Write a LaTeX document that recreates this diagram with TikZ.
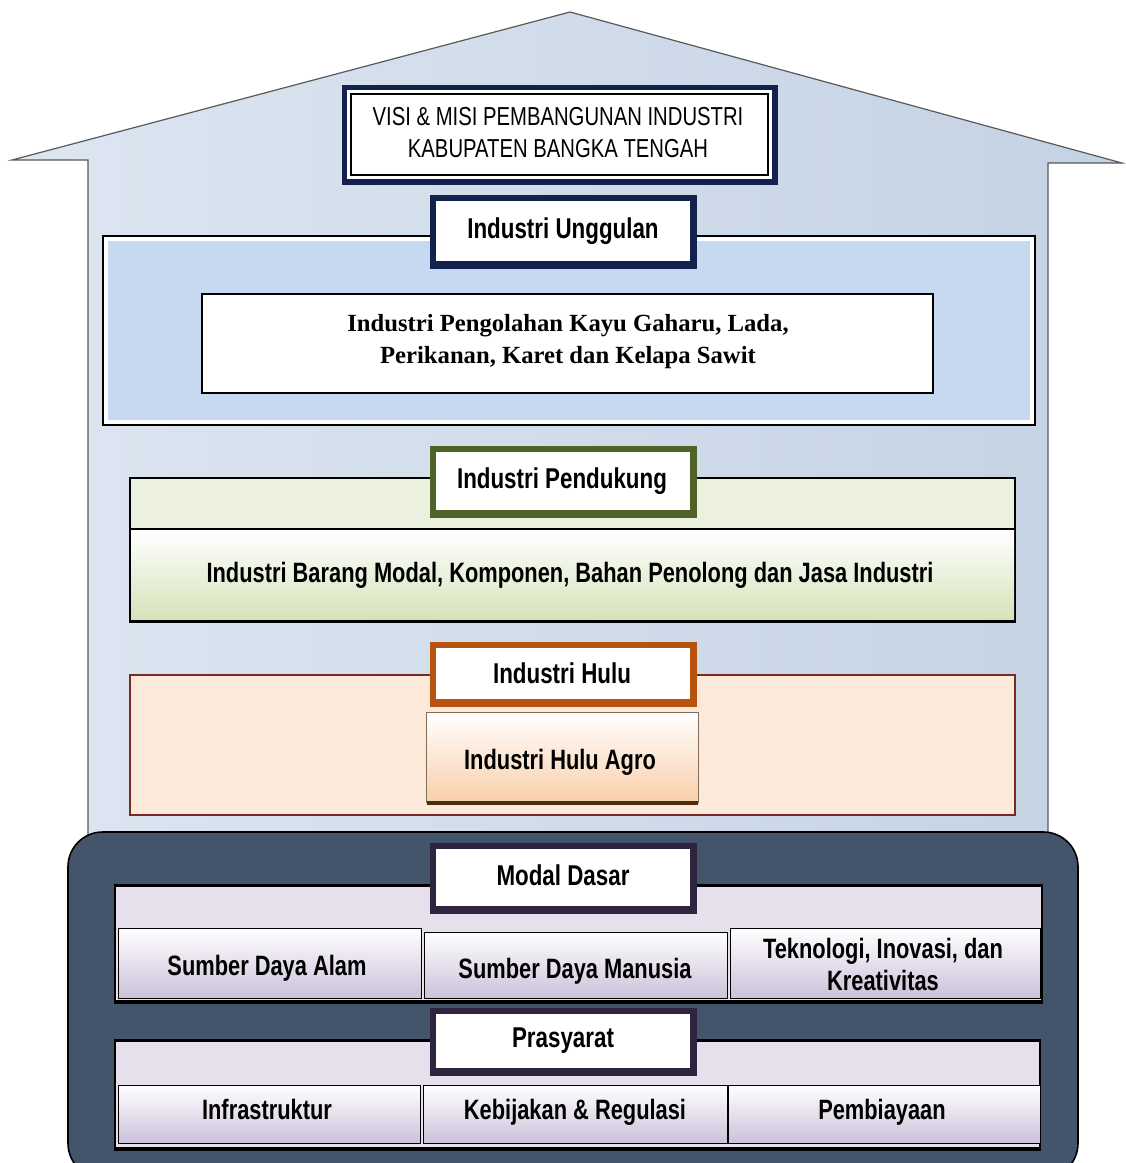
\documentclass[tikz,border=0pt]{standalone}
\usepackage{fontspec}
\setmainfont{Liberation Sans}
\newfontfamily\nar[FakeStretch=0.78]{Liberation Sans}
\newfontfamily\ser{Liberation Serif}
\definecolor{navy}{HTML}{13224D}
\definecolor{houseL}{HTML}{DDE6F1}
\definecolor{houseR}{HTML}{C4D2E3}
\definecolor{basec}{HTML}{44546A}
\definecolor{blueP}{HTML}{C6D9F1}
\definecolor{greenL}{HTML}{EBF1DE}
\definecolor{greenD}{HTML}{D5E3BA}
\definecolor{greenB}{HTML}{4F6228}
\definecolor{peach}{HTML}{FDE9D9}
\definecolor{peachD}{HTML}{F9CFAA}
\definecolor{orangeB}{HTML}{B8520F}
\definecolor{darkred}{HTML}{7A2A24}
\definecolor{brownS}{HTML}{4A2E12}
\definecolor{lav}{HTML}{E5E0EC}
\definecolor{lavD}{HTML}{CCC1DA}
\definecolor{purpB}{HTML}{2E2440}
\usetikzlibrary{calc}
\newcommand\headbox[5]{%
  \fill[#5] (#1,#2) rectangle (#3,#4);
  \fill[white] ($(#1,#2)+(6,6)$) rectangle ($(#3,#4)+(-7,-8)$);}
\tikzset{
  hdr/.style={font=\nar\bfseries\fontsize{21.5}{24}\selectfont, align=center, inner sep=0pt, text height=16pt, text depth=1pt},
  boxtxt/.style={font=\nar\bfseries\fontsize{21}{24}\selectfont, align=center, inner sep=0pt, text height=16pt, text depth=1pt},
  twoline/.style={font=\nar\bfseries\fontsize{21}{24}\selectfont, align=center, inner sep=0pt},
  thinline/.style={line width=0.8pt, draw=black}
}
\begin{document}
\begin{tikzpicture}[x=0.75pt,y=-0.75pt]
\useasboundingbox (0,0) rectangle (1125,1163);
\clip (0,0) rectangle (1125,1163);
% house body
\shade[left color=houseL, right color=houseR]
  (88,845) -- (88,160) -- (12,160) -- (570,12) -- (1122,163) -- (1048,163) -- (1048,845) -- cycle;
\draw[draw=black!65, line width=0.9pt]
  (88,845) -- (88,160) -- (12,160) -- (570,12) -- (1122,163) -- (1048,163) -- (1048,845);
% base
\draw[fill=basec, draw=black, line width=1.2pt, rounded corners=26pt] (68,832) rectangle (1078,1178);

% title
\fill[navy] (342,85) rectangle (778,185);
\fill[white] (347,90) rectangle (772,179);
\draw[line width=0.8pt] (351,94) rectangle (768,175);
\node[font=\nar\fontsize{19.5}{24}\selectfont, align=center, inner sep=0pt] (visi) at (558,133)
  {VISI \& MISI PEMBANGUNAN INDUSTRI\\KABUPATEN BANGKA TENGAH};

% Industri Unggulan
\draw[thinline, fill=white] (103,236) rectangle (1035,425);
\fill[blueP] (108,241) rectangle (1030,420);
\draw[fill=white, line width=1.2pt] (202,294) rectangle (933,393);
\node[font=\ser\bfseries\fontsize{18.5}{24}\selectfont, align=center, inner sep=0pt] (unggulanisi) at (568,342)
  {Industri Pengolahan Kayu Gaharu, Lada,\\Perikanan, Karet dan Kelapa Sawit};
\headbox{430}{195}{697}{269}{navy}
\node[hdr] (unggulan) at (563,228) {Industri Unggulan};

% Industri Pendukung
\draw[thinline, fill=greenL] (130,478) rectangle (1015,622);
\shade[top color=white, bottom color=greenD] (131,530) rectangle (1014,619);
\draw[thinline] (130,529) -- (1015,529);
\draw[line width=2pt] (130,621) -- (1015,621);
\headbox{430}{446}{697}{518}{greenB}
\node[hdr] (pendukung) at (562,478) {Industri Pendukung};
\node[boxtxt] (pendukungisi) at (570,572)
  {Industri Barang Modal, Komponen, Bahan Penolong dan Jasa Industri};

% Industri Hulu
\draw[fill=peach, draw=darkred, line width=0.8pt] (130,675) rectangle (1015,815);
\headbox{430}{642}{697}{707}{orangeB}
\node[hdr] (hulu) at (562,673) {Industri Hulu};
\shade[top color=white, bottom color=peachD] (426,712) rectangle (698,802);
\draw[draw=brownS!70, line width=0.6pt] (426,712) rectangle (698,802);
\draw[draw=brownS, line width=2.5pt] (427,803) -- (698,803);
\node[boxtxt] (huluagro) at (560,759) {Industri Hulu Agro};

% Modal Dasar
\draw[fill=lav, draw=black, line width=1pt] (115,885) rectangle (1042,1003);
\draw[line width=2.2pt] (115,886) -- (1042,886);
\draw[line width=2.5pt] (115,1002) -- (1042,1002);
\shade[top color=white, bottom color=lavD] (118,928) rectangle (421,998);
\draw[line width=0.7pt] (118,928) rectangle (421,998);
\shade[top color=white, bottom color=lavD] (424,932) rectangle (727,998);
\draw[line width=0.7pt] (424,932) rectangle (727,998);
\shade[top color=white, bottom color=lavD] (730,928) rectangle (1040,998);
\draw[line width=0.7pt] (730,928) rectangle (1040,998);
\headbox{430}{843}{697}{914}{purpB}
\node[hdr] (modal) at (563,875) {Modal Dasar};
\node[boxtxt] (sda) at (267,965) {Sumber Daya Alam};
\node[boxtxt] (sdm) at (575,968) {Sumber Daya Manusia};
\node[twoline] (tek) at (883,964) {Teknologi, Inovasi, dan\\Kreativitas};

% Prasyarat
\draw[fill=lav, draw=black, line width=1pt] (115,1040) rectangle (1040,1150);
\draw[line width=2.2pt] (115,1041) -- (1040,1041);
\draw[line width=2.5pt] (115,1149) -- (1040,1149);
\shade[top color=white, bottom color=lavD] (118,1085) rectangle (420,1143);
\draw[line width=0.7pt] (118,1085) rectangle (420,1143);
\shade[top color=white, bottom color=lavD] (423,1085) rectangle (727,1143);
\draw[line width=0.7pt] (423,1085) rectangle (727,1143);
\shade[top color=white, bottom color=lavD] (728,1085) rectangle (1040,1143);
\draw[line width=0.7pt] (728,1085) rectangle (1040,1143);
\headbox{430}{1008}{697}{1076}{purpB}
\node[hdr] (prasyarat) at (563,1037) {Prasyarat};
\node[boxtxt] (infra) at (267,1109) {Infrastruktur};
\node[boxtxt] (kebijakan) at (575,1109) {Kebijakan \& Regulasi};
\node[boxtxt] (biaya) at (882,1109) {Pembiayaan};
\end{tikzpicture}
\end{document}
